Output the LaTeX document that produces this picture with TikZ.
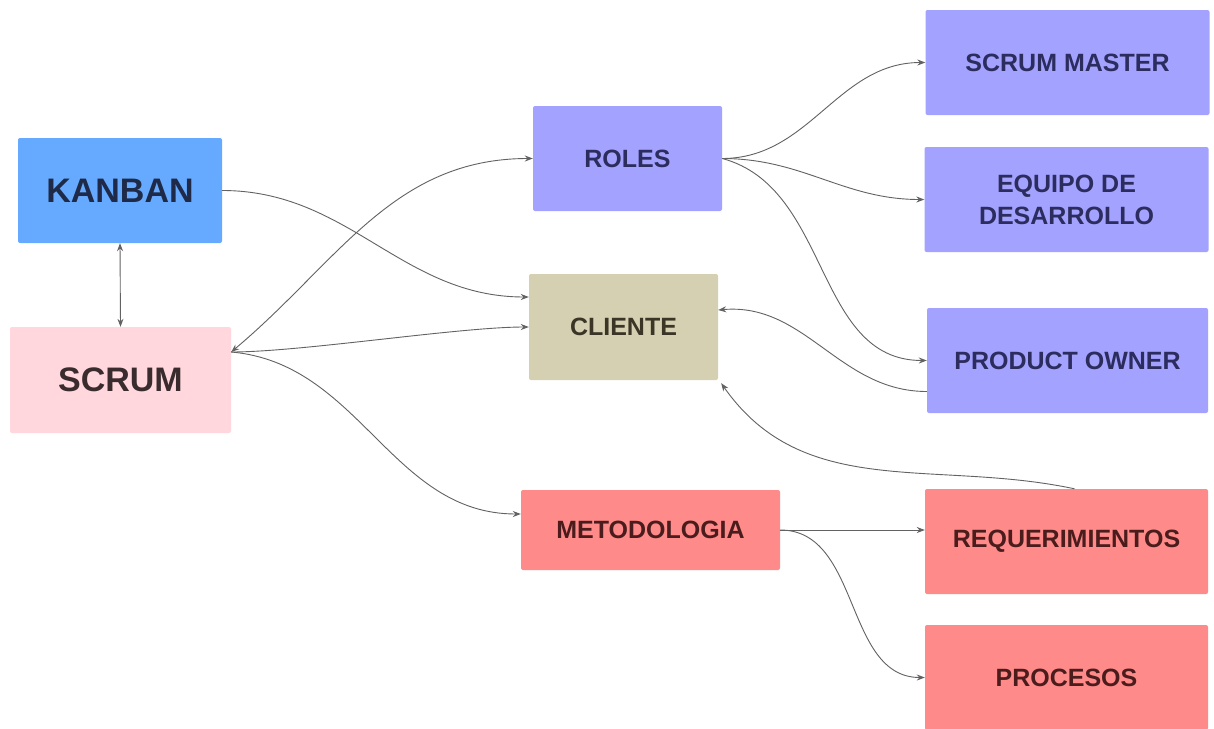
\documentclass[tikz,border=0pt]{standalone}
\usepackage{fontspec}
\setmainfont{Liberation Sans}
\usepackage{tikz}
\usetikzlibrary{arrows.meta}

\definecolor{kanbanfill}{HTML}{66AAFF}
\definecolor{scrumfill}{HTML}{FFD7DD}
\definecolor{rolefill}{HTML}{A3A3FF}
\definecolor{clientfill}{HTML}{D5D0B2}
\definecolor{methodfill}{HTML}{FF8A8A}
\definecolor{bluetext}{HTML}{1E2A48}
\definecolor{roletext}{HTML}{2C2C5E}
\definecolor{clienttext}{HTML}{3A3526}
\definecolor{methodtext}{HTML}{4A1C1C}
\definecolor{scrumtext}{HTML}{3A2C2E}
\definecolor{linkgray}{HTML}{626262}

\begin{document}
\begin{tikzpicture}[x=1pt,y=1pt,
  box/.style={rectangle,rounded corners=2pt,inner sep=0pt,align=center,
    font=\bfseries\fontsize{25}{32}\selectfont},
  big/.style={box,font=\bfseries\fontsize{34}{40}\selectfont},
  role/.style={box,fill=rolefill,text=roletext,minimum width=284pt,minimum height=105pt},
  method/.style={box,fill=methodfill,text=methodtext,minimum width=283pt,minimum height=105pt},
  link/.style={draw=linkgray,line width=0.9pt,-{Stealth[length=8pt,width=6pt]}},
  both/.style={link,{Stealth[length=8pt,width=6pt]}-{Stealth[length=8pt,width=6pt]}}]
\useasboundingbox[fill=white] (0,0) rectangle (1214,-728);

\node[big,fill=kanbanfill,text=bluetext,minimum width=204pt,minimum height=105pt] (kanban) at (120,-190.5) {KANBAN};
\node[big,fill=scrumfill,text=scrumtext,minimum width=221pt,minimum height=106pt] (scrum) at (120.5,-380) {SCRUM};
\node[box,fill=rolefill,text=roletext,minimum width=189pt,minimum height=105pt] (roles) at (627.5,-158.5) {ROLES};
\node[box,fill=clientfill,text=clienttext,minimum width=189pt,minimum height=106pt] (cliente) at (623.5,-327) {CLIENTE};
\node[box,fill=methodfill,text=methodtext,minimum width=259pt,minimum height=80pt] (metodo) at (650.5,-530) {METODOLOGIA};

\node[role] (master) at (1067.5,-62.5) {SCRUM MASTER};
\node[role] (equipo) at (1066.5,-199.5) {EQUIPO DE\\DESARROLLO};
\node[role,minimum width=281pt] (owner) at (1067.5,-360.5) {PRODUCT OWNER};
\node[method] (req) at (1066.5,-541.5) {REQUERIMIENTOS};
\node[method] (procesos) at (1066.5,-677.5) {PROCESOS};

\draw[both] (kanban.south) -- (scrum.north);
\draw[link] (kanban.east) to[out=0,in=180] ([yshift=30pt]cliente.west);
\draw[both] ([yshift=28pt]scrum.east) to[out=40,in=180] (roles.west);
\draw[link] ([yshift=28pt]scrum.east) to[out=0,in=180,looseness=0.6] (cliente.west);
\draw[link] ([yshift=28pt]scrum.east) to[out=-5,in=180] ([yshift=16pt]metodo.west);

\foreach \target in {master,equipo}
  \draw[link] (roles.east) to[out=0,in=180] (\target.west);
\draw[link] (roles.east) to[out=-15,in=180] (owner.west);
\draw[link] ([yshift=-31pt]owner.west) to[out=180,in=5] ([yshift=17pt]cliente.east);
\draw[link] ([xshift=8pt]req.north) to[out=168,in=-55] ([xshift=3pt,yshift=-3pt]cliente.south east);

\draw[link] (metodo.east) -- ([yshift=11.5pt]req.west);
\draw[link] (metodo.east) to[out=0,in=180] (procesos.west);
\end{tikzpicture}
\end{document}
